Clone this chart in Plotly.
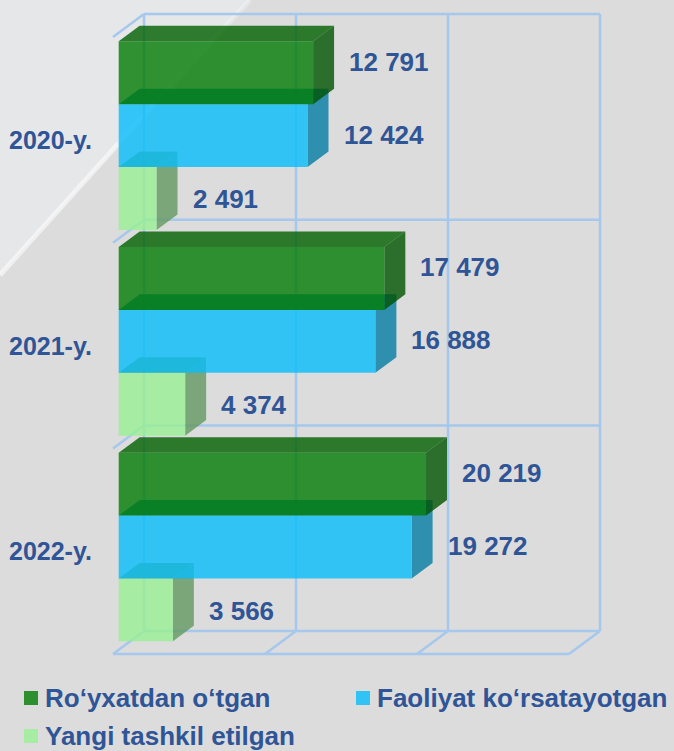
import plotly.graph_objects as go

# ---- data -------------------------------------------------------------
years = ["2020-y.", "2021-y.", "2022-y."]
series_names = ["Ro‘yxatdan o‘tgan", "Faoliyat ko‘rsatayotgan", "Yangi tashkil etilgan"]
registered = [12791, 17479, 20219]
active = [12424, 16888, 19272]
newly_created = [2491, 4374, 3566]
grid_values = [0, 10000, 20000, 30000]

series_values = [registered, active, newly_created]

# ---- styling ----------------------------------------------------------
W, H = 674, 751
FONT = "Liberation Sans, Arial, sans-serif"
TEXT_COLOR = "#2f5597"
GRID_COLOR = "#a5c8ec"
ALPHA = 0.8
# face colours per series: (front, top, side)
face_colors = [
    ((1, 124, 4), (0, 96, 0), (0, 83, 0)),
    ((8, 189, 251), (0, 125, 163), (3, 124, 163)),
    ((152, 240, 148), (99, 150, 66), (98, 152, 98)),
]
legend_colors = ["#2d8f2f", "#32c3f5", "#a6eca2"]
label_yshift = [11, 1, -1]

# oblique projection: value axis (px per unit), band axis (px per category),
# back-wall origin in px, and the depth vector from back wall to front edge
KX = 0.0152
KY = 205.7
X_ORG, Y_ORG = 144, 14
DEPTH_PX = (-31, 23)
DX = DEPTH_PX[0] / KX
DY = DEPTH_PX[1] / KY
D_BACK, D_FRONT = 0.14, 0.816
GROUP = 0.917


def proj(v, u, d):
    return v + d * DX, u + d * DY


def rgba(c, a=ALPHA):
    return f"rgba({c[0]},{c[1]},{c[2]},{a})"


fig = go.Figure()

# ---- wall / floor grid ------------------------------------------------
n = len(years)
vmax = grid_values[-1]


def add_lines(segments, opacity=1.0):
    xs, ys = [], []
    for a, b in segments:
        p, q = proj(*a), proj(*b)
        xs += [p[0], q[0], None]
        ys += [p[1], q[1], None]
    fig.add_trace(go.Scatter(x=xs, y=ys, mode="lines",
                             line=dict(color=GRID_COLOR, width=2.5),
                             opacity=opacity, hoverinfo="skip", showlegend=False))


back_wall = [((g, 0, 0), (g, n, 0)) for g in grid_values]
back_wall += [((0, k, 0), (vmax, k, 0)) for k in range(n + 1)]
floor = [((g, n, 0), (g, n, 1)) for g in grid_values]
floor += [((0, n, 1), (vmax, n, 1))]
side_wall = [((0, k, 0), (0, k, 1)) for k in range(n)]
add_lines(back_wall)
add_lines(floor + side_wall)

# ---- 3D bars ----------------------------------------------------------
h = GROUP / 3
gap = (1 - GROUP) / 2


def face(pts, color):
    xs = [p[0] for p in pts] + [pts[0][0]]
    ys = [p[1] for p in pts] + [pts[0][1]]
    fig.add_trace(go.Scatter(x=xs, y=ys, mode="none", fill="toself",
                             fillcolor=rgba(color), hoverinfo="skip",
                             showlegend=False))


for i in range(n):
    # paint lower bars first so upper bars overlap them
    for j in reversed(range(3)):
        v = series_values[j][i]
        u1 = i + gap + j * h
        u2 = u1 + h
        front_c, top_c, side_c = face_colors[j]
        top = [proj(0, u1, D_FRONT), proj(v, u1, D_FRONT),
               proj(v, u1, D_BACK), proj(0, u1, D_BACK)]
        side = [proj(v, u1, D_FRONT), proj(v, u1, D_BACK),
                proj(v, u2, D_BACK), proj(v, u2, D_FRONT)]
        front = [proj(0, u1, D_FRONT), proj(v, u1, D_FRONT),
                 proj(v, u2, D_FRONT), proj(0, u2, D_FRONT)]
        face(top, top_c)
        face(side, side_c)
        face(front, front_c)

# ---- value labels -----------------------------------------------------
annotations = []
for j in range(3):
    for i in range(n):
        v = series_values[j][i]
        um = i + gap + (j + 0.5) * h
        x_back = proj(v, um, D_BACK)[0]
        y_front = proj(v, um, D_FRONT)[1]
        annotations.append(dict(
            x=x_back, y=y_front, xref="x", yref="y",
            text=f"{v:,}".replace(",", " "), showarrow=False,
            xanchor="left", yanchor="middle", xshift=13, yshift=label_yshift[j],
            font=dict(family=FONT, size=26, color=TEXT_COLOR, weight="bold")))

# ---- category labels --------------------------------------------------
for i, yr in enumerate(years):
    annotations.append(dict(
        x=94 / W, y=proj(0, i + 0.5, 1)[1], xref="paper", yref="y",
        text=yr, showarrow=False, xanchor="right", yanchor="middle",
        font=dict(family=FONT, size=25, color=TEXT_COLOR, weight="bold")))

# ---- legend -----------------------------------------------------------
shapes = [
    # lighter top-left panel of the slide background
    dict(type="path", xref="paper", yref="paper", layer="below",
         path=f"M 0 1 L {250 / W} 1 L 0 {1 - 275 / H} Z",
         fillcolor="#e6e7e9", line=dict(width=0)),
    dict(type="line", xref="paper", yref="paper", layer="below",
         x0=0, y0=1 - 275 / H, x1=118 / W, y1=1 - 144 / H,
         line=dict(color="rgba(255,255,255,0.55)", width=5)),
    dict(type="line", xref="paper", yref="paper", layer="below",
         x0=118 / W, y0=1 - 144 / H, x1=250 / W, y1=1,
         line=dict(color="rgba(255,255,255,0.25)", width=5)),
]
legend_pos = [(24, 698), (356, 698), (24, 736)]
for name, col, (lx, ly) in zip(series_names, legend_colors, legend_pos):
    shapes.append(dict(type="rect", xref="paper", yref="paper",
                       x0=lx / W, x1=(lx + 14) / W,
                       y0=1 - (ly + 7) / H, y1=1 - (ly - 7) / H,
                       fillcolor=col, line=dict(width=0)))
    annotations.append(dict(
        x=(lx + 19) / W, y=1 - ly / H, xref="paper", yref="paper",
        text=name, showarrow=False, xanchor="left", yanchor="middle",
        font=dict(family=FONT, size=26, color=TEXT_COLOR, weight="bold")))

fig.update_layout(
    width=W, height=H,
    margin=dict(l=0, r=0, t=0, b=0),
    paper_bgcolor="#dcdcdc", plot_bgcolor="rgba(0,0,0,0)",
    showlegend=False,
    xaxis=dict(range=[-X_ORG / KX, (W - X_ORG) / KX], visible=False,
               fixedrange=True),
    yaxis=dict(range=[(H - Y_ORG) / KY, -Y_ORG / KY], visible=False,
               fixedrange=True),
    annotations=annotations,
    shapes=shapes,
)

fig.write_html("out.html", config={"displayModeBar": False})
